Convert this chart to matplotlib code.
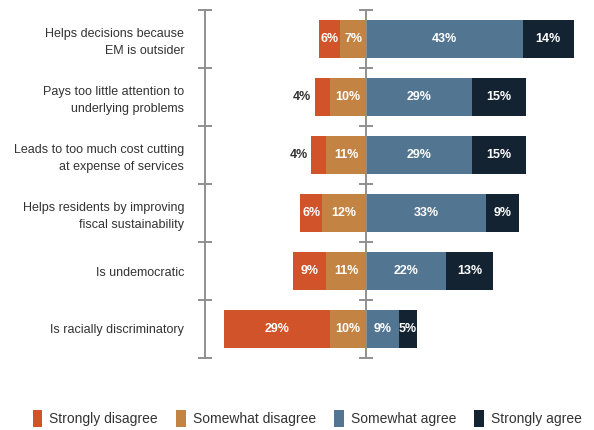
import numpy as np
import matplotlib
matplotlib.use('Agg')
import matplotlib.pyplot as plt
from matplotlib.patches import Patch

plt.rcParams['font.family'] = ['Liberation Sans', 'DejaVu Sans']

categories = [
    'Helps decisions because\nEM is outsider',
    'Pays too little attention to\nunderlying problems',
    'Leads to too much cost cutting\nat expense of services',
    'Helps residents by improving\nfiscal sustainability',
    'Is undemocratic',
    'Is racially discriminatory',
]
strongly_disagree = [6, 4, 4, 6, 9, 29]
somewhat_disagree = [7, 10, 11, 12, 11, 10]
somewhat_agree = [43, 29, 29, 33, 22, 9]
strongly_agree = [14, 15, 15, 9, 13, 5]

series_names = ['Strongly disagree', 'Somewhat disagree', 'Somewhat agree', 'Strongly agree']
colors = ['#D0532A', '#C38443', '#527591', '#132331']
AXIS_GRAY = '#8f8f8f'
TEXT = '#333333'

fig = plt.figure(figsize=(5.94, 4.30), dpi=100)
ax = fig.add_axes([205 / 594, 72 / 430, 389 / 594, 348 / 430])

n = len(categories)
y = n - 0.5 - np.arange(n)
sd = np.array(strongly_disagree)
wd = np.array(somewhat_disagree)
wa = np.array(somewhat_agree)
sa = np.array(strongly_agree)

height = 0.66
segments = [
    (-(sd + wd), sd),
    (-wd, wd),
    (np.zeros(n), wa),
    (wa, sa),
]
for (left, width), color in zip(segments, colors):
    bars = ax.barh(y, width, left=left, height=height, color=color, zorder=2)
    for bar, value in zip(bars, width):
        cx = bar.get_x() + bar.get_width() / 2
        cy = bar.get_y() + bar.get_height() / 2
        if value < 5:
            ax.text(bar.get_x() - 1.0, cy, f'{value}%', ha='right', va='center',
                    fontsize=9, fontweight='bold', color='#333333')
        else:
            ax.text(cx, cy, f'{value}%', ha='center', va='center',
                    fontsize=9, fontweight='bold', color='white', zorder=4)

# center divider with tick marks
ax.axvline(0, color=AXIS_GRAY, lw=1.4, zorder=3)
ax.plot(np.zeros(n + 1), np.arange(n + 1), linestyle='none', marker='_',
        markersize=10, markeredgewidth=1.4, color=AXIS_GRAY, zorder=3, clip_on=False)

ax.set_xlim(-44.2, 62.6)
ax.set_ylim(0, n)

for side in ['top', 'right', 'bottom']:
    ax.spines[side].set_visible(False)
ax.spines['left'].set_color(AXIS_GRAY)
ax.spines['left'].set_linewidth(1.4)
ax.set_xticks([])
ax.set_yticks(np.arange(n + 1))
ax.set_yticklabels([])
ax.tick_params(axis='y', which='major', direction='inout', length=10, width=1.4, color=AXIS_GRAY)
ax.set_yticks(y, minor=True)
ax.set_yticklabels(categories, minor=True, fontsize=9, color=TEXT, ha='right', linespacing=1.45)
ax.tick_params(axis='y', which='minor', length=0, pad=15)

handles = [Patch(facecolor=c, edgecolor='none') for c in colors]
fig.legend(handles, series_names, loc='center', bbox_to_anchor=(0.517, 0.026), ncol=4,
           frameon=False, fontsize=10, handlelength=0.7, handleheight=1.5,
           handletextpad=0.5, columnspacing=1.3, labelcolor=TEXT)

fig.savefig('out.png', dpi=100)
